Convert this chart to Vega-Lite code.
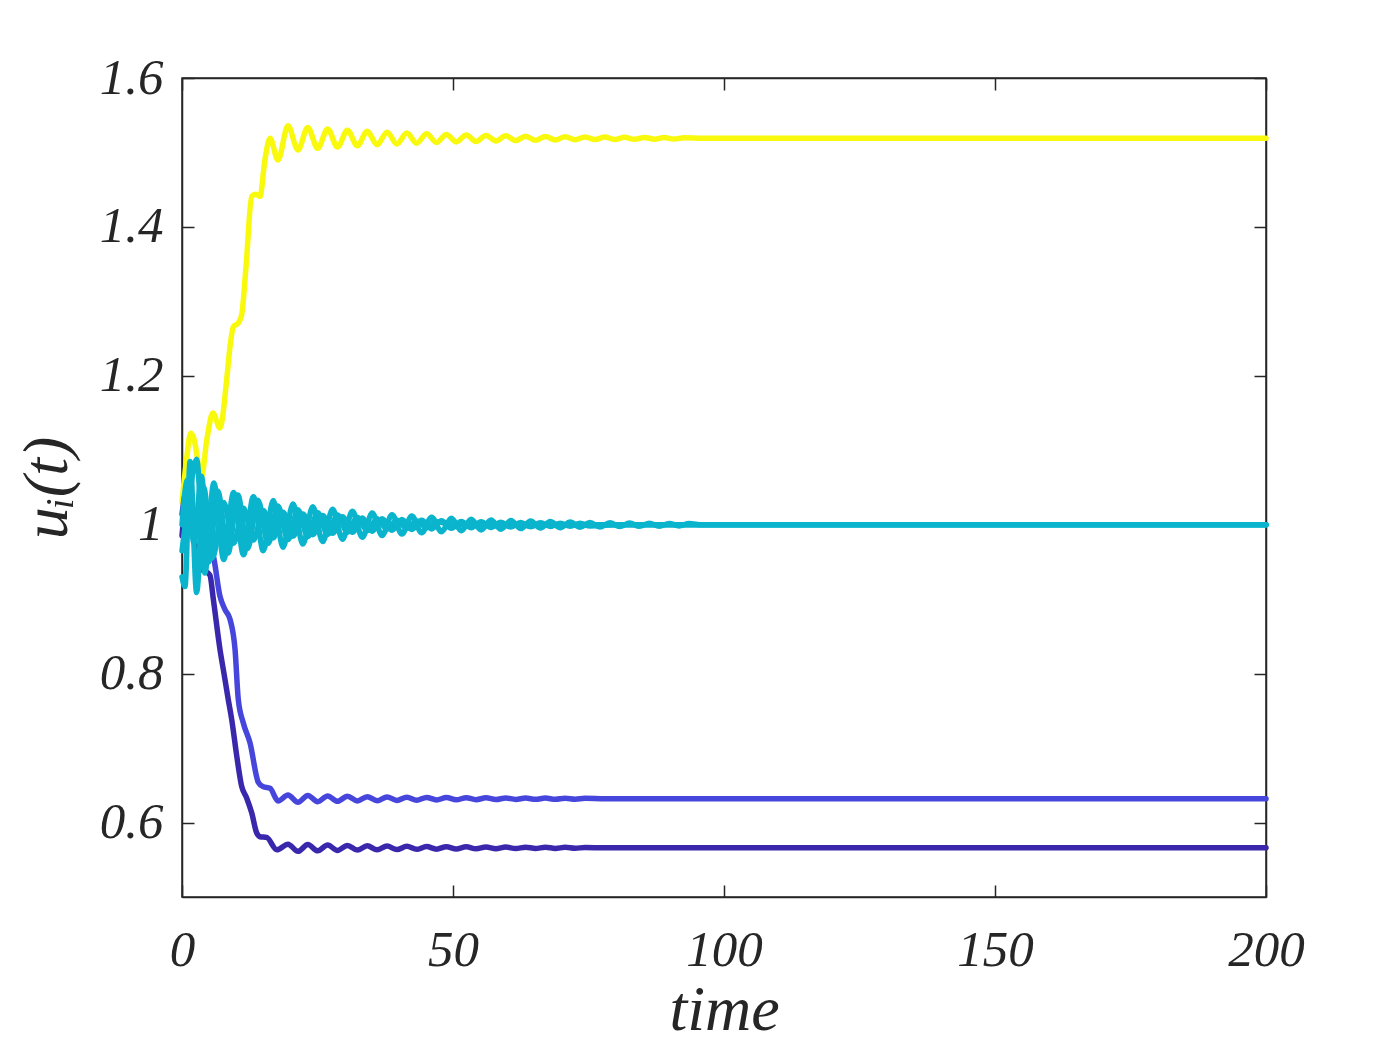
{
"$schema":"https://vega.github.io/schema/vega-lite/v6.json",
"autosize":{"type":"none"},
"padding":{"left":182,"top":78,"right":134,"bottom":153},
"width":1084,"height":819,
"background":"white",
"config":{"view":{"stroke":"#262626","strokeWidth":1.5},
"axis":{"labelFont":"Times New Roman","labelFontStyle":"italic","labelFontSize":51,"labelColor":"#262626","titleFont":"Times New Roman","titleFontStyle":"italic","titleFontWeight":"normal","titleFontSize":64,"titleColor":"#262626","domainColor":"#262626","tickColor":"#262626","grid":false,"tickSize":-12,"domainWidth":1.5,"tickWidth":1.5,"labelFlush":false}},
"data":{"values":[
{"s":"y","t":0,"u":1.030},{"s":"y","t":0.8,"u":1.085},{"s":"y","t":1.6,"u":1.123},{"s":"y","t":2.1,"u":1.118},{"s":"y","t":3.6,"u":1.065},{"s":"y","t":4.6,"u":1.115},{"s":"y","t":5.7,"u":1.150},{"s":"y","t":7.0,"u":1.130},{"s":"y","t":8.25,"u":1.195},{"s":"y","t":8.86,"u":1.239},{"s":"y","t":9.47,"u":1.266},{"s":"y","t":10.39,"u":1.271},{"s":"y","t":11.01,"u":1.282},{"s":"y","t":11.8,"u":1.345},{"s":"y","t":12.86,"u":1.441},{"s":"y","t":13.6,"u":1.444},{"s":"y","t":14.39,"u":1.441},{"s":"y","t":15.3,"u":1.49},{"s":"y","t":16.24,"u":1.519},{"s":"y","t":17.71,"u":1.490},
{"s":"y","t":19.56,"u":1.5358},{"s":"y","t":21.39,"u":1.5034},{"s":"y","t":23.21,"u":1.5335},{"s":"y","t":25.04,"u":1.5055},{"s":"y","t":26.87,"u":1.5315},{"s":"y","t":28.69,"u":1.5073},{"s":"y","t":30.52,"u":1.5298},{"s":"y","t":32.35,"u":1.5089},{"s":"y","t":34.17,"u":1.5284},{"s":"y","t":36.00,"u":1.5103},{"s":"y","t":37.83,"u":1.5271},{"s":"y","t":39.65,"u":1.5115},{"s":"y","t":41.48,"u":1.5260},{"s":"y","t":43.30,"u":1.5125},{"s":"y","t":45.13,"u":1.5250},{"s":"y","t":46.96,"u":1.5134},{"s":"y","t":48.78,"u":1.5242},{"s":"y","t":50.61,"u":1.5142},{"s":"y","t":52.44,"u":1.5235},{"s":"y","t":54.26,"u":1.5148},{"s":"y","t":56.09,"u":1.5229},{"s":"y","t":57.92,"u":1.5154},{"s":"y","t":59.74,"u":1.5224},{"s":"y","t":61.57,"u":1.5159},{"s":"y","t":63.40,"u":1.5219},{"s":"y","t":65.22,"u":1.5163},{"s":"y","t":67.05,"u":1.5215},{"s":"y","t":68.88,"u":1.5167},{"s":"y","t":70.70,"u":1.5212},{"s":"y","t":72.53,"u":1.5170},{"s":"y","t":74.36,"u":1.5209},{"s":"y","t":76.18,"u":1.5173},{"s":"y","t":78.01,"u":1.5206},{"s":"y","t":79.83,"u":1.5175},{"s":"y","t":81.66,"u":1.5204},{"s":"y","t":83.49,"u":1.5177},{"s":"y","t":85.31,"u":1.5202},{"s":"y","t":87.14,"u":1.5179},{"s":"y","t":88.97,"u":1.5200},{"s":"y","t":90.79,"u":1.5180},{"s":"y","t":92.62,"u":1.5199},{"s":"y","t":96,"u":1.519},{"s":"y","t":200,"u":1.519},

{"s":"b1","t":0,"u":1.014},{"s":"b1","t":0.87,"u":1.047},{"s":"b1","t":2.08,"u":1.020},{"s":"b1","t":3.0,"u":0.998},{"s":"b1","t":3.93,"u":0.991},{"s":"b1","t":4.8,"u":0.975},{"s":"b1","t":5.78,"u":0.958},{"s":"b1","t":7.0,"u":0.904},{"s":"b1","t":7.93,"u":0.886},{"s":"b1","t":8.86,"u":0.873},{"s":"b1","t":9.78,"u":0.833},{"s":"b1","t":10.39,"u":0.765},{"s":"b1","t":11.3,"u":0.734},{"s":"b1","t":12.55,"u":0.707},{"s":"b1","t":14.08,"u":0.654},{"s":"b1","t":15.0,"u":0.648},{"s":"b1","t":16.24,"u":0.646},{"s":"b1","t":17.73,"u":0.629},
{"s":"b1","t":19.56,"u":0.6370},{"s":"b1","t":21.39,"u":0.6273},{"s":"b1","t":23.21,"u":0.6364},{"s":"b1","t":25.04,"u":0.6280},{"s":"b1","t":26.87,"u":0.6358},{"s":"b1","t":28.69,"u":0.6285},{"s":"b1","t":30.52,"u":0.6353},{"s":"b1","t":32.35,"u":0.6290},{"s":"b1","t":34.17,"u":0.6348},{"s":"b1","t":36.00,"u":0.6294},{"s":"b1","t":37.83,"u":0.6344},{"s":"b1","t":39.65,"u":0.6297},{"s":"b1","t":41.48,"u":0.6341},{"s":"b1","t":43.30,"u":0.6300},{"s":"b1","t":45.13,"u":0.6338},{"s":"b1","t":46.96,"u":0.6303},{"s":"b1","t":48.78,"u":0.6336},{"s":"b1","t":50.61,"u":0.6305},{"s":"b1","t":52.44,"u":0.6334},{"s":"b1","t":54.26,"u":0.6307},{"s":"b1","t":56.09,"u":0.6332},{"s":"b1","t":57.92,"u":0.6309},{"s":"b1","t":59.74,"u":0.6330},{"s":"b1","t":61.57,"u":0.6311},{"s":"b1","t":63.40,"u":0.6329},{"s":"b1","t":65.22,"u":0.6312},{"s":"b1","t":67.05,"u":0.6328},{"s":"b1","t":68.88,"u":0.6313},{"s":"b1","t":70.70,"u":0.6327},{"s":"b1","t":72.53,"u":0.6314},{"s":"b1","t":74.36,"u":0.6326},{"s":"b1","t":78,"u":0.632},{"s":"b1","t":200,"u":0.632},

{"s":"b2","t":0,"u":0.985},{"s":"b2","t":0.9,"u":1.035},{"s":"b2","t":1.8,"u":1.003},{"s":"b2","t":2.6,"u":0.965},{"s":"b2","t":3.6,"u":0.940},{"s":"b2","t":4.5,"u":0.937},{"s":"b2","t":5.17,"u":0.932},{"s":"b2","t":5.78,"u":0.900},{"s":"b2","t":7.0,"u":0.833},{"s":"b2","t":7.75,"u":0.800},{"s":"b2","t":8.54,"u":0.765},{"s":"b2","t":9.16,"u":0.739},{"s":"b2","t":10.09,"u":0.690},{"s":"b2","t":11.0,"u":0.649},{"s":"b2","t":11.93,"u":0.633},{"s":"b2","t":12.86,"u":0.613},{"s":"b2","t":13.78,"u":0.586},{"s":"b2","t":14.39,"u":0.581},{"s":"b2","t":15.62,"u":0.580},{"s":"b2","t":17.5,"u":0.5635},
{"s":"b2","t":19.56,"u":0.5710},{"s":"b2","t":21.39,"u":0.5613},{"s":"b2","t":23.21,"u":0.5704},{"s":"b2","t":25.04,"u":0.5620},{"s":"b2","t":26.87,"u":0.5698},{"s":"b2","t":28.69,"u":0.5625},{"s":"b2","t":30.52,"u":0.5693},{"s":"b2","t":32.35,"u":0.5630},{"s":"b2","t":34.17,"u":0.5688},{"s":"b2","t":36.00,"u":0.5634},{"s":"b2","t":37.83,"u":0.5684},{"s":"b2","t":39.65,"u":0.5637},{"s":"b2","t":41.48,"u":0.5681},{"s":"b2","t":43.30,"u":0.5640},{"s":"b2","t":45.13,"u":0.5678},{"s":"b2","t":46.96,"u":0.5643},{"s":"b2","t":48.78,"u":0.5676},{"s":"b2","t":50.61,"u":0.5645},{"s":"b2","t":52.44,"u":0.5674},{"s":"b2","t":54.26,"u":0.5647},{"s":"b2","t":56.09,"u":0.5672},{"s":"b2","t":57.92,"u":0.5649},{"s":"b2","t":59.74,"u":0.5670},{"s":"b2","t":61.57,"u":0.5651},{"s":"b2","t":63.40,"u":0.5669},{"s":"b2","t":65.22,"u":0.5652},{"s":"b2","t":67.05,"u":0.5668},{"s":"b2","t":68.88,"u":0.5653},{"s":"b2","t":70.70,"u":0.5667},{"s":"b2","t":72.53,"u":0.5654},{"s":"b2","t":74.36,"u":0.5666},{"s":"b2","t":78,"u":0.566},{"s":"b2","t":200,"u":0.566},

{"s":"c3","t":0,"u":1.0},{"s":"c3","t":1.0,"u":1.06},{"s":"c3","t":2.2,"u":0.975},{"s":"c3","t":3.6,"u":1.065},{"s":"c3","t":4.9,"u":0.95},{"s":"c3","t":6.6,"u":1.045},{"s":"c3","t":8.5,"u":0.962},{"s":"c3","t":10.3,"u":1.04},{"s":"c3","t":12.1,"u":0.968},{"s":"c3","t":14.0,"u":1.033},{"s":"c3","t":15.9,"u":0.975},{"s":"c3","t":17.7,"u":1.025},{"s":"c3","t":19.56,"u":0.98},{"s":"c3","t":21.39,"u":1.02},{"s":"c3","t":23.21,"u":0.984},{"s":"c3","t":25.04,"u":1.016},{"s":"c3","t":26.87,"u":0.987},{"s":"c3","t":28.69,"u":1.013},{"s":"c3","t":30.52,"u":0.99},{"s":"c3","t":32.35,"u":1.01},{"s":"c3","t":34.17,"u":0.992},{"s":"c3","t":36.0,"u":1.008},{"s":"c3","t":37.83,"u":0.994},{"s":"c3","t":39.65,"u":1.006},{"s":"c3","t":41.48,"u":0.995},{"s":"c3","t":43.3,"u":1.005},{"s":"c3","t":45.13,"u":0.996},{"s":"c3","t":46.96,"u":1.004},{"s":"c3","t":50,"u":1.0},{"s":"c3","t":200,"u":1.0},

{"s":"c2","t":0,"u":0.93},{"s":"c2","t":0.55,"u":0.917},{"s":"c2","t":1.5,"u":1.085},{"s":"c2","t":2.7,"u":0.909},{"s":"c2","t":4.0,"u":1.05},{"s":"c2","t":5.6,"u":0.955},{"s":"c2","t":7.7,"u":1.03},{"s":"c2","t":9.52,"u":0.975},{"s":"c2","t":11.35,"u":1.022},{"s":"c2","t":13.17,"u":0.9794},
{"s":"c2","t":15.0,"u":1.0192},{"s":"c2","t":16.83,"u":0.9822},{"s":"c2","t":18.65,"u":1.0166},{"s":"c2","t":20.48,"u":0.9846},{"s":"c2","t":22.31,"u":1.0143},{"s":"c2","t":24.13,"u":0.9867},{"s":"c2","t":25.96,"u":1.0124},{"s":"c2","t":27.79,"u":0.9885},{"s":"c2","t":29.61,"u":1.0107},{"s":"c2","t":31.44,"u":0.9900},{"s":"c2","t":33.27,"u":1.0092},{"s":"c2","t":35.09,"u":0.9914},{"s":"c2","t":36.92,"u":1.0080},{"s":"c2","t":38.75,"u":0.9926},{"s":"c2","t":40.57,"u":1.0069},{"s":"c2","t":42.40,"u":0.9936},{"s":"c2","t":44.22,"u":1.0059},{"s":"c2","t":46.05,"u":0.9944},{"s":"c2","t":47.88,"u":1.0052},{"s":"c2","t":49.70,"u":0.9952},{"s":"c2","t":51.53,"u":1.0045},{"s":"c2","t":53.36,"u":0.9959},{"s":"c2","t":55.18,"u":1.0039},{"s":"c2","t":57.01,"u":0.9964},{"s":"c2","t":58.84,"u":1.0033},{"s":"c2","t":60.66,"u":0.9969},{"s":"c2","t":62.49,"u":1.0029},{"s":"c2","t":64.32,"u":0.9973},{"s":"c2","t":66.14,"u":1.0025},{"s":"c2","t":67.97,"u":0.9977},{"s":"c2","t":69.80,"u":1.0021},{"s":"c2","t":71.62,"u":0.9980},{"s":"c2","t":73.45,"u":1.0019},{"s":"c2","t":75.28,"u":0.9983},{"s":"c2","t":80,"u":1.0},{"s":"c2","t":200,"u":1.0},

{"s":"c1","t":0,"u":0.965},{"s":"c1","t":1.2,"u":1.03},{"s":"c1","t":2.7,"u":1.088},{"s":"c1","t":4.2,"u":0.935},{"s":"c1","t":5.87,"u":1.056},
{"s":"c1","t":7.70,"u":0.9533},{"s":"c1","t":9.52,"u":1.0434},{"s":"c1","t":11.35,"u":0.9597},{"s":"c1","t":13.17,"u":1.0375},{"s":"c1","t":15.0,"u":0.9651},{"s":"c1","t":16.83,"u":1.0324},{"s":"c1","t":18.65,"u":0.9699},{"s":"c1","t":20.48,"u":1.0280},{"s":"c1","t":22.31,"u":0.9740},{"s":"c1","t":24.13,"u":1.0242},{"s":"c1","t":25.96,"u":0.9775},{"s":"c1","t":27.79,"u":1.0209},{"s":"c1","t":29.61,"u":0.9806},{"s":"c1","t":31.44,"u":1.0181},{"s":"c1","t":33.27,"u":0.9832},{"s":"c1","t":35.09,"u":1.0156},{"s":"c1","t":36.92,"u":0.9855},{"s":"c1","t":38.75,"u":1.0135},{"s":"c1","t":40.57,"u":0.9875},{"s":"c1","t":42.40,"u":1.0117},{"s":"c1","t":44.22,"u":0.9892},{"s":"c1","t":46.05,"u":1.0101},{"s":"c1","t":47.88,"u":0.9906},{"s":"c1","t":49.70,"u":1.0087},{"s":"c1","t":51.53,"u":0.9919},{"s":"c1","t":53.36,"u":1.0075},{"s":"c1","t":55.18,"u":0.9930},{"s":"c1","t":57.01,"u":1.0065},{"s":"c1","t":58.84,"u":0.9940},{"s":"c1","t":60.66,"u":1.0056},{"s":"c1","t":62.49,"u":0.9948},{"s":"c1","t":64.32,"u":1.0049},{"s":"c1","t":66.14,"u":0.9955},{"s":"c1","t":67.97,"u":1.0042},{"s":"c1","t":69.80,"u":0.9961},{"s":"c1","t":71.62,"u":1.0036},{"s":"c1","t":73.45,"u":0.9966},{"s":"c1","t":75.28,"u":1.0031},{"s":"c1","t":77.10,"u":0.9971},{"s":"c1","t":78.93,"u":1.0027},{"s":"c1","t":80.75,"u":0.9975},{"s":"c1","t":82.58,"u":1.0023},{"s":"c1","t":84.41,"u":0.9978},{"s":"c1","t":86.23,"u":1.0020},{"s":"c1","t":88.06,"u":0.9981},{"s":"c1","t":89.89,"u":1.0018},{"s":"c1","t":91.71,"u":0.9984},{"s":"c1","t":93.54,"u":1.0015},{"s":"c1","t":96,"u":1.0},{"s":"c1","t":200,"u":1.0}
]},
"layer":[
{"mark":{"type":"line","interpolate":"monotone","strokeWidth":5.5,"strokeCap":"round","strokeJoin":"round"},
"encoding":{
"x":{"field":"t","type":"quantitative","scale":{"domain":[0,200],"nice":false,"zero":false},"axis":{"values":[0,50,100,150,200],"title":"time","labelPadding":40,"titlePadding":3,"orient":"bottom"}},
"y":{"field":"u","type":"quantitative","scale":{"domain":[0.5,1.6],"nice":false,"zero":false},"axis":{"values":[0.6,0.8,1,1.2,1.4,1.6],"format":"~g","title":"uᵢ(t)","labelPadding":31,"titlePadding":20,"orient":"left"}},
"color":{"field":"s","type":"nominal","scale":{"domain":["y","b1","b2","c3","c2","c1"],"range":["#F9F90E","#4646DC","#3A28AC","#0AB4CC","#0AB4CC","#0AB4CC"]},"legend":null},
"order":{"field":"t","type":"quantitative"}
}},
{"mark":{"type":"line","opacity":0},
"encoding":{
"x":{"field":"t","type":"quantitative","axis":{"values":[0,50,100,150,200],"labels":false,"title":null,"orient":"top"}},
"y":{"field":"u","type":"quantitative","axis":{"values":[0.6,0.8,1,1.2,1.4,1.6],"labels":false,"title":null,"orient":"right"}},
"detail":{"field":"s"}
}}
],
"resolve":{"axis":{"x":"independent","y":"independent"}}
}
